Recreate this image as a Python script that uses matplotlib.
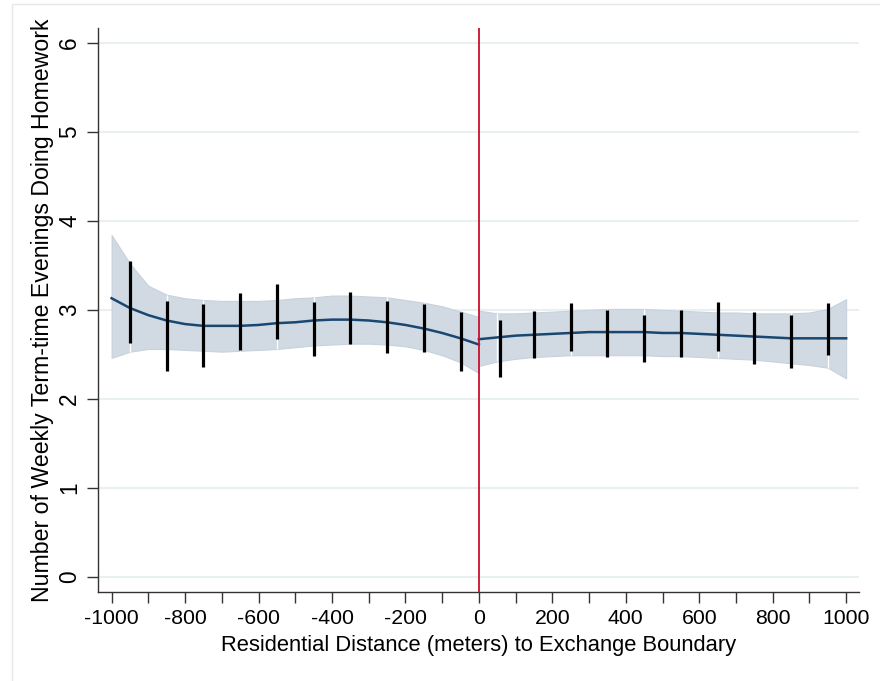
import matplotlib
matplotlib.use("Agg")
import matplotlib.pyplot as plt
from matplotlib.patches import Rectangle

plt.rcParams['font.family'] = ['Liberation Sans', 'DejaVu Sans']

# Fitted polynomial and confidence band, left of boundary
left_x = [-1000, -950, -900, -850, -800, -750, -700, -650, -600, -550, -500,
          -450, -400, -350, -300, -250, -200, -150, -100, -50, 0]
left_fit = [3.13, 3.02, 2.94, 2.88, 2.84, 2.82, 2.82, 2.82, 2.83, 2.85, 2.86,
            2.88, 2.89, 2.89, 2.88, 2.86, 2.83, 2.79, 2.74, 2.68, 2.61]
left_upper = [3.84, 3.52, 3.27, 3.17, 3.13, 3.11, 3.10, 3.10, 3.10, 3.11, 3.13,
              3.14, 3.16, 3.16, 3.15, 3.14, 3.11, 3.08, 3.04, 2.98, 2.92]
left_lower = [2.46, 2.53, 2.56, 2.56, 2.55, 2.54, 2.53, 2.54, 2.55, 2.56, 2.58,
              2.60, 2.61, 2.62, 2.62, 2.61, 2.59, 2.55, 2.49, 2.41, 2.29]

# Right of boundary
right_x = [0, 50, 100, 150, 200, 250, 300, 350, 400, 450, 500,
           550, 600, 650, 700, 750, 800, 850, 900, 950, 1000]
right_fit = [2.67, 2.69, 2.71, 2.72, 2.73, 2.74, 2.75, 2.75, 2.75, 2.75, 2.74,
             2.74, 2.73, 2.72, 2.71, 2.70, 2.69, 2.68, 2.68, 2.68, 2.68]
right_upper = [2.99, 2.96, 2.96, 2.97, 2.98, 2.99, 3.00, 3.01, 3.01, 3.01, 3.00,
               2.99, 2.98, 2.97, 2.97, 2.96, 2.96, 2.96, 2.97, 3.01, 3.12]
right_lower = [2.37, 2.42, 2.45, 2.47, 2.48, 2.49, 2.49, 2.49, 2.49, 2.49, 2.48,
               2.48, 2.47, 2.46, 2.45, 2.44, 2.42, 2.40, 2.38, 2.35, 2.23]

# Binned means: 95% CI bars
bin_x = [-950, -850, -750, -650, -550, -450, -350, -250, -150, -50,
         57, 150, 250, 350, 450, 550, 650, 750, 850, 950]
bin_hi = [3.55, 3.10, 3.07, 3.19, 3.29, 3.09, 3.20, 3.10, 3.07, 2.97,
          2.89, 2.99, 3.08, 3.00, 2.94, 3.00, 3.09, 2.97, 2.94, 3.08]
bin_lo = [2.63, 2.31, 2.36, 2.55, 2.67, 2.48, 2.62, 2.52, 2.53, 2.31,
          2.25, 2.46, 2.54, 2.47, 2.41, 2.47, 2.54, 2.39, 2.35, 2.49]

x_ticks = list(range(-1000, 1001, 100))
x_labels = [str(t) if t % 200 == 0 else '' for t in x_ticks]
y_ticks = [0, 1, 2, 3, 4, 5, 6]

fig = plt.figure(figsize=(8.8, 6.81), dpi=100)
fig.patches.append(Rectangle((12 / 880, -0.1), 1.2, 1 - 4 / 681 + 0.1,
                             transform=fig.transFigure, fill=False,
                             edgecolor='#e6e9ec', linewidth=1.0))
ax = fig.add_axes([98 / 880, 1 - 592 / 681, (859 - 98) / 880, (592 - 28) / 681])

band_color = '#d1dae3'
band_edge = '#c8d2dc'
for xs, up, lo in [(left_x, left_upper, left_lower), (right_x, right_upper, right_lower)]:
    ax.fill_between(xs, lo, up, facecolor=band_color, edgecolor=band_edge,
                    linewidth=0.8, zorder=2)

# thin segment breaks in the band at bin centers
for xs, up, lo in [(left_x, left_upper, left_lower), (right_x, right_upper, right_lower)]:
    for i, xv in enumerate(xs):
        if xv % 100 == 50:
            ax.vlines(xv, lo[i], up[i], colors='white', linewidth=0.9, zorder=2.5)

ax.plot(left_x, left_fit, color='#1a476f', linewidth=1.8, zorder=3)
ax.plot(right_x, right_fit, color='#1a476f', linewidth=1.8, zorder=3)

ax.vlines(bin_x, bin_lo, bin_hi, colors='black', linewidth=2.3, zorder=4)

ax.axvline(0, color='#c8102e', linewidth=1.3, zorder=5)

ax.set_xlim(-1037, 1035)
ax.set_ylim(-0.169, 6.165)
ax.set_xticks(x_ticks)
ax.set_xticklabels(x_labels)
ax.set_yticks(y_ticks)
ax.set_yticklabels([str(v) for v in y_ticks], rotation=90, va='center')

ax.grid(axis='y', color='#e8f0f2', linewidth=1.5, zorder=0)
ax.set_axisbelow(True)
for s in ['top', 'right']:
    ax.spines[s].set_visible(False)
for s in ['left', 'bottom']:
    ax.spines[s].set_color('#333333')
    ax.spines[s].set_linewidth(1.0)
ax.tick_params(axis='both', direction='out', length=8, width=1.0,
               color='#333333', pad=4)
ax.tick_params(axis='x', labelsize=15.3)
ax.tick_params(axis='y', labelsize=16.3)

ax.set_xlabel('Residential Distance (meters) to Exchange Boundary', fontsize=15.8, labelpad=5)
ax.set_ylabel('Number of Weekly Term-time Evenings Doing Homework', fontsize=16.7, labelpad=3)

fig.savefig('out.png', dpi=100, facecolor='white')
